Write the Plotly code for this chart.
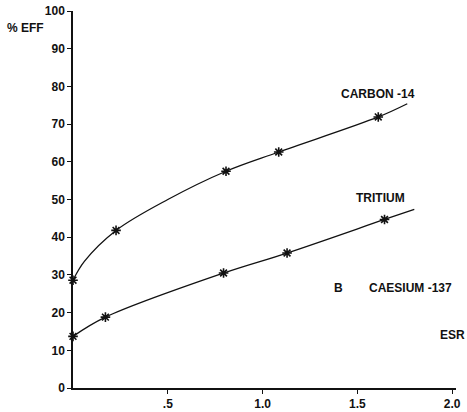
import plotly.graph_objects as go

# Counting efficiency (% EFF) against external standard ratio (ESR)
c14_esr = [0.0, 0.227, 0.807, 1.085, 1.61]
c14_eff = [28.6, 41.8, 57.5, 62.6, 71.9]
c14_curve_esr = [0.0, 0.06, 0.227, 0.5, 0.807, 1.085, 1.61, 1.763]
c14_curve_eff = [28.6, 33.6, 41.8, 50.0, 57.5, 62.6, 71.9, 75.4]

h3_esr = [0.0, 0.171, 0.794, 1.129, 1.643]
h3_eff = [13.7, 18.8, 30.5, 35.8, 44.7]
h3_curve_esr = [0.0, 0.171, 0.794, 1.129, 1.643, 1.8]
h3_curve_eff = [13.7, 18.8, 30.5, 35.8, 44.7, 47.4]

y_ticks = list(range(0, 101, 10))
x_ticks = [0.5, 1.0, 1.5, 2.0]
x_tick_text = [".5", "1.0", "1.5", "2.0"]

FONT = "Liberation Sans"
INK = "#111111"

fig = go.Figure()
for cx, cy in [(c14_curve_esr, c14_curve_eff), (h3_curve_esr, h3_curve_eff)]:
    fig.add_trace(go.Scatter(x=cx, y=cy, mode="lines",
                             line=dict(color=INK, width=1.3, shape="spline", smoothing=1.0),
                             hoverinfo="skip", showlegend=False))
for px, py in [(c14_esr, c14_eff), (h3_esr, h3_eff)]:
    fig.add_trace(go.Scatter(x=px, y=py, mode="markers",
                             marker=dict(symbol="asterisk-open", size=8, color=INK,
                                         line=dict(color=INK, width=1.6)),
                             showlegend=False, cliponaxis=False))

labels = [
    (1.61, 77.9, "CARBON -14"),
    (1.62, 50.3, "TRITIUM"),
    (1.40, 26.4, "B"),
    (1.78, 26.4, "CAESIUM -137"),
    (2.0, 14.0, "ESR"),
]
for lx, ly, txt in labels:
    fig.add_annotation(x=lx, y=ly, text=txt, showarrow=False,
                       font=dict(family=FONT, size=12, color=INK, weight="bold"))

# y-axis title sits left of the axis, level with the 95 mark
fig.add_annotation(xref="paper", x=-0.125, xanchor="center", yref="y", y=95.4, text="% EFF",
                   showarrow=False, font=dict(family=FONT, size=12, color=INK, weight="bold"))

fig.update_xaxes(range=[0, 2.02], tickvals=x_ticks, ticktext=x_tick_text, automargin=False,
                 showgrid=False, zeroline=False, showline=True, linecolor=INK, linewidth=1.5,
                 ticks="outside", ticklen=4, tickwidth=1.2, tickcolor=INK,
                 tickfont=dict(family=FONT, size=12, color=INK, weight="bold"))
fig.update_yaxes(range=[0, 100], tickvals=y_ticks, automargin=False,
                 showgrid=False, zeroline=False, showline=True, linecolor=INK, linewidth=1.5,
                 ticks="outside", ticklen=4, tickwidth=1.2, tickcolor=INK,
                 tickfont=dict(family=FONT, size=12, color=INK, weight="bold"))

fig.update_layout(width=467, height=412, margin=dict(l=73, r=11, t=11, b=24),
                  paper_bgcolor="white", plot_bgcolor="white")

fig.write_html("out.html")
